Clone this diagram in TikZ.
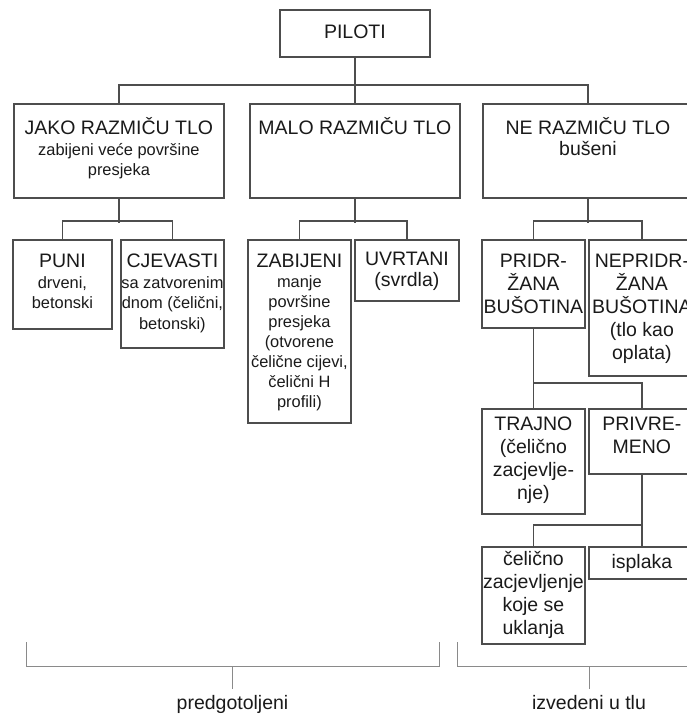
\documentclass[tikz,border=0pt]{standalone}
\usepackage{fontspec}
\setmainfont{Liberation Sans}
\usetikzlibrary{calc}

\definecolor{linegray}{HTML}{4D4D4D}
\definecolor{bracegray}{HTML}{8A8A8A}
\definecolor{textblack}{HTML}{1A1A1A}

\newcommand{\bigtxt}{\fontsize{19.5}{23}\selectfont}
\newcommand{\smalltxt}{\fontsize{16.4}{20.5}\selectfont}
% width, height, first baseline, text
\newcommand{\boxtext}[4]{\parbox[t][#2pt][t]{#1pt}{\centering\bigtxt\rule{0pt}{#3pt}#4\par}}

\tikzset{
  box/.style={draw=linegray, line width=1.8pt, inner sep=0pt, anchor=north west, text=textblack},
  fork/.style={draw=linegray, line width=1.8pt},
  brace/.style={draw=bracegray, line width=1pt},
  caption/.style={text=textblack, font=\bigtxt, inner sep=0pt, anchor=base},
}

\begin{document}
\begin{tikzpicture}[x=1pt, y=-1pt]
    \fill[white] (0,0) rectangle (687,715);
    \useasboundingbox (0,0) rectangle (687,715);
    \clip (0,0) rectangle (687,715);

    % okviri
    \node[box] (piloti) at (279,9) {\boxtext{150}{47}{29}{PILOTI}};

    \node[box] (jako) at (13,103) {\boxtext{210}{94}{31}{JAKO RAZMIČU TLO\par\smalltxt zabijeni veće površine\\presjeka}};
    \node[box] (malo) at (249,103) {\boxtext{210}{94}{31}{MALO RAZMIČU TLO}};
    \node[box] (ne) at (482,103) {\boxtext{210}{94}{31}{NE RAZMIČU TLO\\[-2pt]bušeni}};

    \node[box] (puni) at (12,239) {\boxtext{99}{89}{28}{PUNI\par\smalltxt drveni,\\betonski}};
    \node[box] (cjev) at (120,239) {\boxtext{103}{108}{28}{CJEVASTI\par\smalltxt sa zatvorenim\\dnom (čelični,\\betonski)}};
    \node[box] (zabij) at (247,239) {\boxtext{103}{183}{28}{ZABIJENI\par\fontsize{16.4}{20}\selectfont manje\\površine\\presjeka\\(otvorene\\čelične cijevi,\\čelični H\\profili)}};
    \node[box] (uvrt) at (354,239) {\boxtext{104}{61}{26}{UVRTANI\\[-2pt](svrdla)}};
    \node[box] (pridr) at (481,239) {\boxtext{103}{88}{28}{PRIDR-\\ŽANA\\BUŠOTINA}};
    \node[box] (nepridr) at (588,239) {\boxtext{106}{136}{28}{NEPRIDR-\\ŽANA\\BUŠOTINA\\(tlo kao\\oplata)}};

    \node[box] (trajno) at (481,408) {\boxtext{103}{105}{22}{TRAJNO\\(čelično\\zacjevlje-\\nje)}};
    \node[box] (privr) at (588,408) {\boxtext{106}{65}{22}{PRIVRE-\\MENO}};

    \node[box] (celicno) at (481,546) {\boxtext{103}{97}{19}{čelično\\zacjevljenje\\koje se\\uklanja}};
    \node[box] (isplaka) at (588,546) {\boxtext{106}{32}{22}{isplaka}};

    % veze
    \draw[fork] (piloti.south) -- (malo.north);
    \draw[fork] (jako.north) -- ++(0,-18) -| (ne.north);

    \draw[fork] (jako.south) -- ++(0,24);
    \draw[fork] (puni.north) -- ++(0,-18) -| (cjev.north);
    \draw[fork] (malo.south) -- ++(0,24);
    \draw[fork] (zabij.north) -- ++(0,-18) -| (uvrt.north);
    \draw[fork] (ne.south) -- ++(0,24);
    \draw[fork] (pridr.north) -- ++(0,-18) -| (nepridr.north);

    \draw[fork] (pridr.south) -- (trajno.north);
    \draw[fork] (trajno.north) -- ++(0,-25) -| (privr.north);
    \draw[fork] (privr.south) -- (isplaka.north);
    \draw[fork] (celicno.north) -- ++(0,-21) -| (isplaka.north);

    % zagrade
    \coordinate (A) at (26,642);
    \coordinate (B) at (439,642);
    \coordinate (C) at (457,642);
    \coordinate (D) at (721,642);
    \node[caption] (predg) at (232.5,709) {predgotoljeni};
    \node[caption] (izved) at (589,709) {izvedeni u tlu};

    \draw[brace] (A) -- ++(0,24) -| (B);
    \draw[brace] (C) -- ++(0,24) -| (D);
    \draw[brace] (predg.north |- A) ++(0,24) -- ([yshift=6pt]predg.north);
    \draw[brace] (izved.north |- C) ++(0,24) -- ([yshift=6pt]izved.north);
\end{tikzpicture}
\end{document}
